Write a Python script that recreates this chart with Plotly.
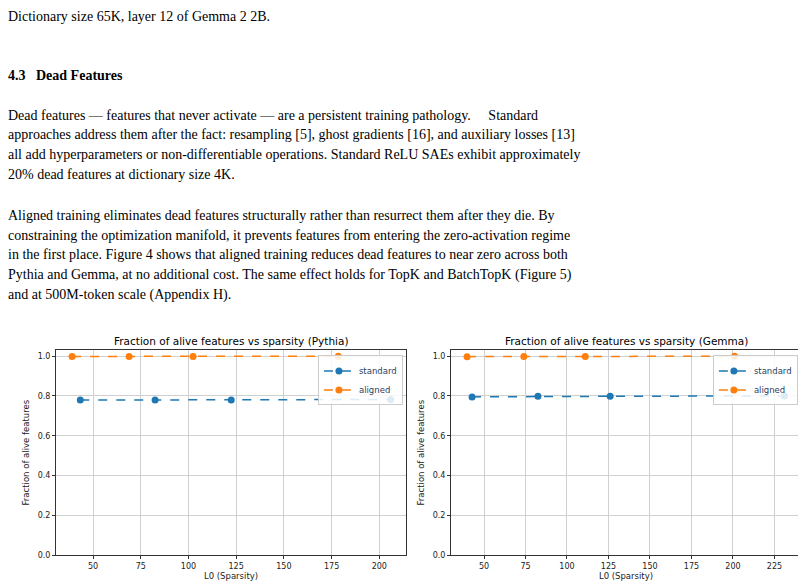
import plotly.graph_objects as go

py_std_x = [43.3, 82.5, 122.4, 206]
py_std_y = [0.779, 0.779, 0.779, 0.782]
py_ali_x = [39, 68.9, 102.4, 178.5]
py_ali_y = [0.998, 0.998, 0.998, 0.999]
ge_std_x = [42.8, 82.5, 126, 231]
ge_std_y = [0.795, 0.798, 0.798, 0.800]
ge_ali_x = [39.8, 74, 111, 201]
ge_ali_y = [0.997, 0.998, 0.998, 0.999]

BLUE, ORANGE = "#1f77b4", "#ff7f0e"
fig = go.Figure()
def add(x, y, name, color, xa, ya, leg):
    fig.add_trace(go.Scatter(x=x, y=y, name=name, mode="lines+markers",
        line=dict(color=color, dash="dash", width=1.5), marker=dict(size=7, color=color),
        xaxis=xa, yaxis=ya, legend=leg))
add(py_std_x, py_std_y, "standard", BLUE, "x", "y", "legend")
add(py_ali_x, py_ali_y, "aligned", ORANGE, "x", "y", "legend")
add(ge_std_x, ge_std_y, "standard", BLUE, "x2", "y2", "legend2")
add(ge_ali_x, ge_ali_y, "aligned", ORANGE, "x2", "y2", "legend2")

ax = dict(showline=True, mirror=True, linecolor="#333", linewidth=1, showgrid=True,
          gridcolor="#d0d0d0", ticks="outside", ticklen=3, tickcolor="#333",
          tickfont=dict(family="DejaVu Sans", size=8, color="#222"), zeroline=False,
          title_font=dict(family="DejaVu Sans", size=8.5, color="#222"))
yd = [0.0612, 0.4133]
fig.update_layout(
    width=806, height=588, autosize=False, margin=dict(l=0, r=0, t=0, b=0),
    paper_bgcolor="white", plot_bgcolor="white",
    xaxis=dict(ax, domain=[0.0596, 0.4938], range=[30.6, 214], tickvals=[50,75,100,125,150,175,200],
               title=dict(text="L0 (Sparsity)", standoff=2)),
    yaxis=dict(ax, domain=yd, range=[0, 1.03], tickvals=[0,0.2,0.4,0.6,0.8,1.0], tickformat=".1f",
               title=dict(text="Fraction of alive features", standoff=6)),
    xaxis2=dict(ax, domain=[0.5496, 0.9839], range=[30.1, 241], tickvals=[50,75,100,125,150,175,200,225],
                title=dict(text="L0 (Sparsity)", standoff=2), anchor="y2"),
    yaxis2=dict(ax, domain=yd, range=[0, 1.03], tickvals=[0,0.2,0.4,0.6,0.8,1.0], tickformat=".1f",
                title=dict(text="Fraction of alive features", standoff=6), anchor="x2"),
    legend=dict(x=0.4900, y=0.404, xanchor="right", yanchor="top", bordercolor="#ccc", borderwidth=1,
                bgcolor="rgba(255,255,255,0.85)", font=dict(family="DejaVu Sans", size=8.5), tracegroupgap=0),
    legend2=dict(x=0.9800, y=0.404, xanchor="right", yanchor="top", bordercolor="#ccc", borderwidth=1,
                 bgcolor="rgba(255,255,255,0.85)", font=dict(family="DejaVu Sans", size=8.5)),
)
def txt(s, x, y, size=14, bold=False, anchor="left", family="Liberation Serif"):
    fig.add_annotation(text=("<b>%s</b>" % s) if bold else s, x=x/806, y=1-y/588, xref="paper", yref="paper",
                       xanchor=anchor, yanchor="middle", showarrow=False, borderpad=0,
                       font=dict(family=family, size=size, color="black"))
titles = ["Fraction of alive features vs sparsity (Pythia)", "Fraction of alive features vs sparsity (Gemma)"]
txt(titles[0], 223, 336, size=10.5, anchor="center", family="DejaVu Sans")
txt(titles[1], 618, 336, size=10.5, anchor="center", family="DejaVu Sans")
lines = [
    (11, "Dictionary size 65K, layer 12 of Gemma 2 2B."),
    (110, "Dead features — features that never activate — are a persistent training pathology.     Standard"),
    (130, "approaches address them after the fact: resampling [5], ghost gradients [16], and auxiliary losses [13]"),
    (150, "all add hyperparameters or non-differentiable operations. Standard ReLU SAEs exhibit approximately"),
    (170, "20% dead features at dictionary size 4K."),
    (211, "Aligned training eliminates dead features structurally rather than resurrect them after they die. By"),
    (231, "constraining the optimization manifold, it prevents features from entering the zero-activation regime"),
    (251, "in the first place. Figure 4 shows that aligned training reduces dead features to near zero across both"),
    (271, "Pythia and Gemma, at no additional cost. The same effect holds for TopK and BatchTopK (Figure 5)"),
    (291, "and at 500M-token scale (Appendix H)."),
]
for y, s in lines:
    txt(s, -1, y - 2)
txt("4.3", -1, 68, bold=True)
txt("Dead Features", 27, 68, bold=True)
fig.write_html("out.html")
